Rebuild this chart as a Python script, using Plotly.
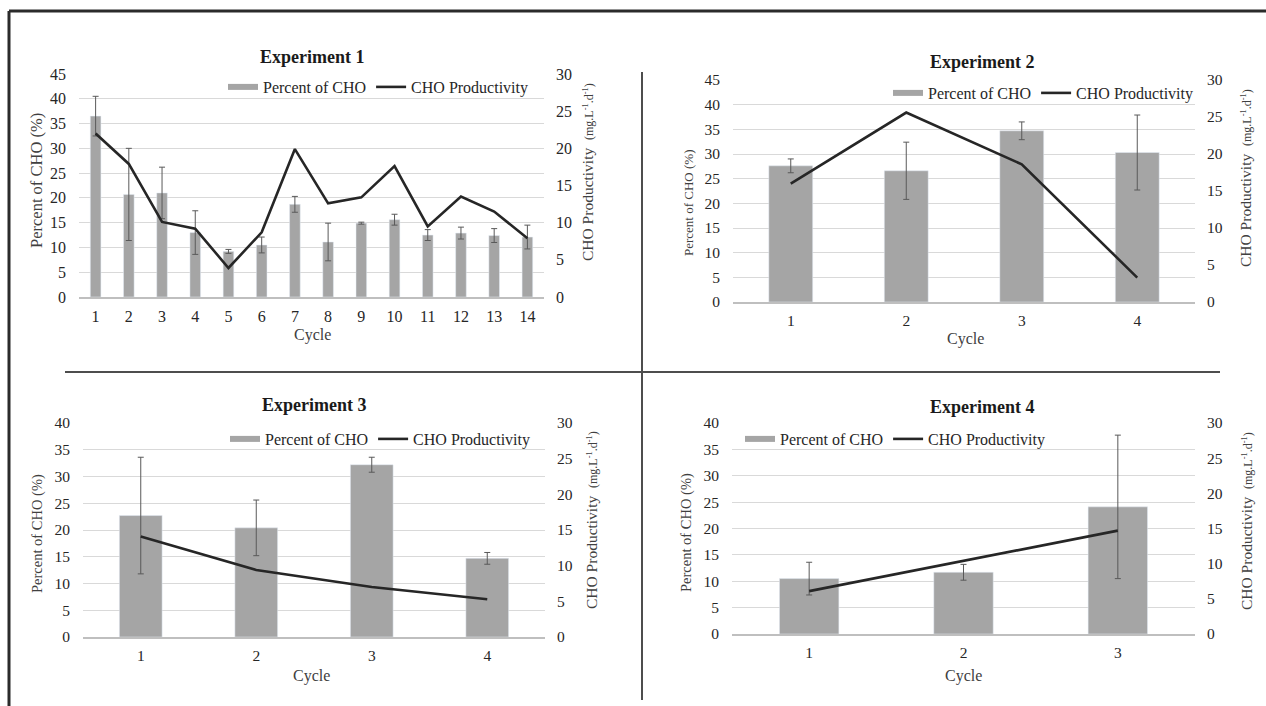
import plotly.graph_objects as go

# ---- data -------------------------------------------------------------
exp1_cycles = list(range(1, 15))
exp1_pct = [36.5, 20.7, 21.0, 13.0, 9.2, 10.5, 18.7, 11.1, 14.9, 15.6, 12.5, 12.9, 12.4, 12.1]
exp1_pct_err = [4.0, 9.3, 5.2, 4.4, 0.4, 1.6, 1.6, 3.8, 0.2, 1.1, 1.1, 1.2, 1.4, 2.4]
exp1_prod = [22.0, 17.9, 10.1, 9.2, 3.9, 8.7, 19.9, 12.6, 13.4, 17.6, 9.5, 13.5, 11.5, 7.9]

exp2_cycles = [1, 2, 3, 4]
exp2_pct = [27.6, 26.6, 34.7, 30.3]
exp2_pct_err = [1.4, 5.8, 1.8, 7.6]
exp2_prod = [16.0, 25.6, 18.6, 3.3]

exp3_cycles = [1, 2, 3, 4]
exp3_pct = [22.7, 20.4, 32.2, 14.7]
exp3_pct_err = [10.9, 5.2, 1.4, 1.1]
exp3_prod = [14.1, 9.4, 7.0, 5.3]

exp4_cycles = [1, 2, 3]
exp4_pct = [10.5, 11.7, 24.1]
exp4_pct_err = [3.1, 1.5, 13.6]
exp4_prod = [6.1, 10.4, 14.7]

titles = ["Experiment 1", "Experiment 2", "Experiment 3", "Experiment 4"]
pct_ranges = [45, 45, 40, 40]

W, H = 1266, 706
FONT = "Liberation Serif"
BAR = "#a5a5a5"
LINE = "#262626"
TICK = "#262626"
TXT = "#404040"
GRID = "#d9d9d9"


def px_x(v):
    return v / W


def px_y(v):
    return 1 - v / H


# plot areas in pixels: (left, right, top, bottom)
areas = [
    (79, 544, 74, 297),
    (733, 1195, 80, 302),
    (83, 545, 423, 637),
    (732, 1195, 423, 634),
]
bar_widths = [0.32, 0.38, 0.37, 0.385]
panels = [
    (exp1_cycles, exp1_pct, exp1_pct_err, exp1_prod),
    (exp2_cycles, exp2_pct, exp2_pct_err, exp2_prod),
    (exp3_cycles, exp3_pct, exp3_pct_err, exp3_prod),
    (exp4_cycles, exp4_pct, exp4_pct_err, exp4_prod),
]
# text placement per panel (pixels)
legend_pos = [(223, 87), (888, 93), (225, 439), (740, 439)]
title_pos = [(312, 57), (982, 62), (314, 405), (982, 407)]
cycle_pos = [(312, 335), (965, 339), (311, 676), (963, 676)]
left_title = [(37, 181, 16.5), (688, 203, 13), (37, 534, 14.5), (686, 533, 14.5)]
right_title = [(588, 172), (1245, 178), (591, 520), (1246, 521)]
tick_size = [16, 15.5, 15.5, 15.5]

fig = go.Figure()
layout = {}
annotations = []

unit_text = ("CHO Productivity  <span style='font-size:12px'>(mg.L<sup>-1</sup>.d<sup>-1</sup>)</span>")

for i, (cyc, pct, err, prod) in enumerate(panels):
    n = i + 1
    xa = f"x{n}" if n > 1 else "x"
    ya_l = f"y{2 * n - 1}" if n > 1 else "y"
    ya_r = f"y{2 * n}"
    leg = "legend" if n == 1 else f"legend{n}"
    l, r, t, b = areas[i]

    # legend key for the bars (wide grey swatch)
    fig.add_trace(go.Scatter(
        x=[None], y=[None], mode="lines", name="Percent of CHO",
        line=dict(color=BAR, width=6), xaxis=xa, yaxis=ya_l, legend=leg,
        hoverinfo="skip",
    ))
    fig.add_trace(go.Bar(
        x=cyc, y=pct, name="Percent of CHO", marker_color=BAR,
        width=bar_widths[i],
        error_y=dict(type="data", array=err, color="#595959", thickness=1, width=3),
        xaxis=xa, yaxis=ya_l, showlegend=False,
    ))
    fig.add_trace(go.Scatter(
        x=cyc, y=prod, name="CHO Productivity", mode="lines",
        line=dict(color=LINE, width=2.6),
        xaxis=xa, yaxis=ya_r, legend=leg, showlegend=True,
    ))

    xkey = "xaxis" if n == 1 else f"xaxis{n}"
    ylkey = "yaxis" if n == 1 else f"yaxis{2 * n - 1}"
    yrkey = f"yaxis{2 * n}"
    ts = tick_size[i]
    layout[xkey] = dict(
        domain=[px_x(l), px_x(r)], anchor=ya_l,
        range=[0.5, len(cyc) + 0.5], tickvals=cyc,
        showgrid=False, showline=True, linecolor="#bfbfbf", linewidth=1.5,
        ticks="", zeroline=False, automargin=False, ticklabelstandoff=4,
        tickfont=dict(family=FONT, size=ts, color=TICK),
    )
    layout[ylkey] = dict(
        domain=[px_y(b), px_y(t)], anchor=xa,
        range=[0, pct_ranges[i]], dtick=5, tick0=0,
        showgrid=True, gridcolor=GRID, gridwidth=1, zeroline=False,
        showline=False, ticks="", automargin=False, ticklabelstandoff=12,
        tickfont=dict(family=FONT, size=ts, color=TICK),
    )
    layout[yrkey] = dict(
        domain=[px_y(b), px_y(t)], anchor=xa, overlaying=ya_l, side="right",
        range=[0, 30], dtick=5, tick0=0,
        showgrid=False, zeroline=False, showline=False, ticks="",
        automargin=False, ticklabelstandoff=11,
        tickfont=dict(family=FONT, size=ts, color=TICK),
    )
    lx, ly = legend_pos[i]
    layout[leg] = dict(
        x=px_x(lx), y=px_y(ly), xanchor="left", yanchor="middle",
        orientation="h", bgcolor="rgba(0,0,0,0)",
        font=dict(family=FONT, size=16, color="#262626"),
        itemwidth=30, tracegroupgap=0,
    )
    tx, ty = title_pos[i]
    annotations.append(dict(
        text=f"<b>{titles[i]}</b>", x=px_x(tx), y=px_y(ty),
        showarrow=False, xanchor="center", yanchor="middle",
        font=dict(family=FONT, size=18, color="#1a1a1a"),
    ))
    cx, cy = cycle_pos[i]
    annotations.append(dict(
        text="Cycle", x=px_x(cx), y=px_y(cy), showarrow=False,
        xanchor="center", yanchor="middle",
        font=dict(family=FONT, size=16, color=TXT),
    ))
    ax_, ay_, asz = left_title[i]
    annotations.append(dict(
        text="Percent of CHO (%)", x=px_x(ax_), y=px_y(ay_), showarrow=False,
        textangle=-90, xanchor="center", yanchor="middle",
        font=dict(family=FONT, size=asz, color=TXT),
    ))
    rx, ry = right_title[i]
    annotations.append(dict(
        text=unit_text, x=px_x(rx), y=px_y(ry), showarrow=False,
        textangle=-90, xanchor="center", yanchor="middle",
        font=dict(family=FONT, size=15.5, color=TXT),
    ))

for a in annotations:
    a["xref"] = "paper"
    a["yref"] = "paper"

shapes = [
    # outer frame (left and top edges)
    dict(type="line", xref="paper", yref="paper", x0=px_x(9), x1=1.0, y0=px_y(11), y1=px_y(11),
         line=dict(color="#2b2b2b", width=3)),
    dict(type="line", xref="paper", yref="paper", x0=px_x(9), x1=px_x(9), y0=px_y(11), y1=0,
         line=dict(color="#2b2b2b", width=3)),
    # quadrant dividers
    dict(type="line", xref="paper", yref="paper", x0=px_x(65), x1=px_x(1220), y0=px_y(372), y1=px_y(372),
         line=dict(color="#4d4d4d", width=2)),
    dict(type="line", xref="paper", yref="paper", x0=px_x(642), x1=px_x(642), y0=px_y(72), y1=px_y(700),
         line=dict(color="#4d4d4d", width=2)),
]

fig.update_layout(
    width=W, height=H, margin=dict(l=0, r=0, t=0, b=0, autoexpand=False),
    paper_bgcolor="white", plot_bgcolor="white",
    barmode="overlay", annotations=annotations, shapes=shapes,
    font=dict(family=FONT, color=TXT),
    **layout,
)

fig.write_html("out.html")
